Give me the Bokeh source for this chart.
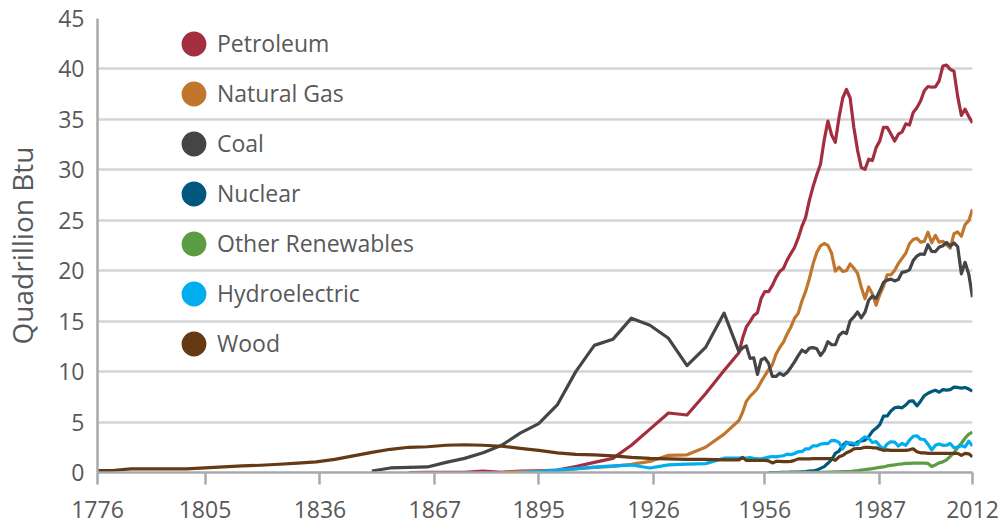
from bokeh.plotting import figure
from bokeh.models import Range1d, FixedTicker, Legend, LegendItem
from bokeh.embed import file_html
from bokeh.resources import INLINE

# ---- data (Quadrillion Btu) ----
years_early = [1776, 1780, 1785, 1790, 1795, 1800, 1805, 1810, 1815, 1820, 1825, 1830,
               1835, 1840, 1845, 1850, 1855, 1860, 1865, 1870, 1875, 1880, 1885, 1890,
               1895, 1900, 1905, 1910, 1915, 1920, 1925, 1930, 1935, 1940, 1945]
years_annual = list(range(1949, 2013))

wood_early = [0.2, 0.2, 0.35, 0.35, 0.35, 0.36, 0.45, 0.55, 0.65, 0.72, 0.82, 0.92,
              1.05, 1.3, 1.65, 2.0, 2.3, 2.5, 2.55, 2.7, 2.75, 2.7, 2.6, 2.4,
              2.2, 1.95, 1.8, 1.75, 1.65, 1.5, 1.4, 1.35, 1.3, 1.3, 1.25]
coal_early = [None] * 15 + [0.15, 0.45, 0.5, 0.55, 1.0, 1.4, 1.95, 2.7, 3.9,
                            4.85, 6.7, 10.0, 12.6, 13.2, 15.3, 14.6, 13.3, 10.6, 12.4, 15.8]
petroleum_early = [None] * 17 + [0.0, 0.02, 0.02, 0.02, 0.15, 0.02, 0.15,
                                 0.17, 0.23, 0.6, 1.0, 1.4, 2.7, 4.3, 5.9, 5.7, 7.8, 10.1]
gas_early = [None] * 22 + [0.02, 0.1, 0.12, 0.2, 0.35, 0.5, 0.6, 0.8, 1.1, 1.7, 1.75, 2.5, 3.8]
hydro_early = [None] * 23 + [0.02, 0.09, 0.25, 0.39, 0.54, 0.66, 0.74, 0.45, 0.75, 0.83, 0.88, 1.42]

petroleum_annual = [11.88, 13.32, 14.43, 14.96, 15.56, 15.84, 17.26, 17.94, 17.93, 18.53,
                    19.32, 19.92, 20.22, 21.05, 21.70, 22.30, 23.25, 24.40, 25.28, 26.98,
                    28.34, 29.52, 30.56, 32.95, 34.84, 33.45, 32.73, 35.18, 37.12, 37.97,
                    37.12, 34.20, 31.93, 30.23, 30.05, 31.05, 30.92, 32.20, 32.87, 34.22,
                    34.21, 33.55, 32.85, 33.53, 33.75, 34.56, 34.44, 35.68, 36.16, 36.82,
                    37.84, 38.26, 38.19, 38.22, 38.81, 40.29, 40.39, 39.96, 39.77, 37.28,
                    35.40, 36.01, 35.28, 34.66]
gas_annual = [5.15, 5.97, 7.05, 7.55, 7.91, 8.33, 9.00, 9.61, 10.19, 10.66,
              11.72, 12.39, 12.93, 13.73, 14.40, 15.29, 15.77, 17.00, 17.95, 19.21,
              20.68, 21.80, 22.47, 22.70, 22.51, 21.73, 19.95, 20.35, 19.93, 20.00,
              20.67, 20.24, 19.75, 18.36, 17.22, 18.39, 17.70, 16.59, 17.64, 18.45,
              19.60, 19.60, 20.03, 20.71, 21.23, 21.73, 22.67, 23.09, 23.22, 22.83,
              22.91, 23.82, 22.77, 23.51, 22.83, 22.92, 22.57, 22.24, 23.66, 23.84,
              23.42, 24.58, 24.96, 26.09]
coal_annual = [11.98, 12.35, 12.55, 11.31, 11.37, 9.72, 11.17, 11.35, 10.82, 9.53,
               9.52, 9.84, 9.62, 9.91, 10.41, 10.96, 11.58, 12.14, 11.91, 12.33,
               12.38, 12.27, 11.60, 12.08, 12.97, 12.66, 12.66, 13.58, 13.92, 13.77,
               15.04, 15.42, 15.91, 15.32, 15.89, 17.07, 17.48, 17.26, 18.01, 18.85,
               19.07, 19.17, 18.99, 19.12, 19.84, 19.91, 20.09, 21.00, 21.45, 21.66,
               21.62, 22.58, 21.91, 21.90, 22.32, 22.47, 22.80, 22.45, 22.75, 22.39,
               19.69, 20.83, 19.66, 17.38]
nuclear_annual = [None] * 8 + [0.0, 0.002, 0.002, 0.006, 0.02, 0.026, 0.038, 0.04,
                               0.043, 0.064, 0.088, 0.142, 0.154, 0.239, 0.413, 0.584,
                               0.91, 1.27, 1.90, 2.11, 2.70, 3.02, 2.78, 2.74, 3.01, 3.13,
                               3.20, 3.55, 4.08, 4.38, 4.75, 5.59, 5.60, 6.10, 6.42, 6.48,
                               6.41, 6.69, 7.08, 7.09, 6.60, 7.07, 7.61, 7.86, 8.03, 8.15,
                               7.96, 8.22, 8.16, 8.22, 8.46, 8.43, 8.36, 8.43, 8.27, 8.06]
renew_annual = [None] * 11 + [0.0, 0.0, 0.0, 0.0, 0.0, 0.004, 0.005, 0.005, 0.006, 0.008,
                              0.011, 0.013, 0.02, 0.04, 0.05, 0.06, 0.07, 0.08, 0.09, 0.1,
                              0.14, 0.18, 0.23, 0.28, 0.33, 0.38, 0.45, 0.5, 0.55, 0.65,
                              0.7, 0.75, 0.82, 0.85, 0.9, 0.9, 0.92, 0.92, 0.92, 0.92,
                              0.9, 0.6, 0.75, 0.95, 1.05, 1.25, 1.6, 1.95, 2.5, 2.9,
                              3.4, 3.8, 4.0]
hydro_annual = [1.43, 1.42, 1.42, 1.47, 1.41, 1.36, 1.36, 1.44, 1.52, 1.59,
                1.55, 1.61, 1.66, 1.82, 1.77, 1.89, 2.06, 2.06, 2.35, 2.35,
                2.65, 2.63, 2.82, 2.86, 2.86, 3.18, 3.16, 2.98, 2.33, 2.94,
                2.93, 2.90, 2.76, 3.27, 3.53, 3.39, 2.97, 3.07, 2.64, 2.33,
                2.84, 3.05, 3.02, 2.62, 2.89, 2.68, 3.21, 3.59, 3.64, 3.30,
                3.27, 2.81, 2.24, 2.69, 2.83, 2.69, 2.70, 2.87, 2.45, 2.51,
                2.67, 2.54, 3.10, 2.63]
wood_annual = [1.25, 1.5, 1.2, 1.2, 1.2, 1.2, 1.2, 1.2, 1.15, 0.95,
               1.1, 1.1, 1.08, 1.08, 1.1, 1.2, 1.35, 1.36, 1.36, 1.36,
               1.37, 1.37, 1.37, 1.38, 1.38, 1.38, 1.2, 1.55, 1.68, 1.95,
               2.1, 2.35, 2.38, 2.4, 2.5, 2.5, 2.45, 2.45, 2.3, 2.2,
               2.25, 2.2, 2.2, 2.2, 2.2, 2.2, 2.25, 2.35, 2.05, 1.95,
               1.95, 1.9, 1.9, 1.9, 1.9, 1.9, 1.9, 1.9, 1.9, 1.9,
               1.7, 1.9, 1.85, 1.55]

names = ["Petroleum", "Natural Gas", "Coal", "Nuclear", "Other Renewables", "Hydroelectric", "Wood"]
colors = ["#a32e3f", "#c0772d", "#454547", "#00587c", "#5c9c43", "#00aeef", "#633a14"]
series = [
    petroleum_early + petroleum_annual,
    gas_early + gas_annual,
    coal_early + coal_annual,
    [None] * len(years_early) + nuclear_annual,
    [None] * len(years_early) + renew_annual,
    hydro_early + hydro_annual,
    wood_early + wood_annual,
]
x_ticks = [1776, 1805, 1836, 1867, 1895, 1926, 1956, 1987, 2012]
y_ticks = [0, 5, 10, 15, 20, 25, 30, 35, 40, 45]
y_title = "Quadrillion Btu"

TEXT = "#58595b"
AXIS = "#a7a9ac"
FONT = "Open Sans"

p = figure(width=1000, height=524, output_backend="svg", toolbar_location=None,
           x_range=Range1d(1776, 2012), y_range=Range1d(0, 45),
           min_border_left=94, min_border_right=28, min_border_top=18, min_border_bottom=52)
p.outline_line_color = None
p.background_fill_color = "white"
p.border_fill_color = "white"

years = years_early + years_annual
legend_items = []
for name, col, vals in zip(names, colors, series):
    xs = [y for y, v in zip(years, vals) if v is not None]
    ys = [v for v in vals if v is not None]
    p.line(xs, ys, line_color=col, line_width=3.2, line_join="round")
    # legend swatch: a vanishingly small ellipse at the series' first point;
    # the legend draws it as a round dot scaled to the glyph box
    r = p.ellipse(x=xs[:1], y=ys[:1], width=0.01, height=0.01,
                  width_units="screen", height_units="screen",
                  fill_color=col, line_color=None)
    legend_items.append(LegendItem(label=name, renderers=[r]))

# axes
p.xaxis.ticker = FixedTicker(ticks=x_ticks)
p.yaxis.ticker = FixedTicker(ticks=y_ticks)
for ax in (p.xaxis[0], p.yaxis[0]):
    ax.axis_line_color = AXIS
    ax.axis_line_width = 2.5
    ax.major_tick_line_color = AXIS
    ax.major_tick_line_width = 2.5
    ax.minor_tick_line_color = None
    ax.major_label_text_color = TEXT
    ax.major_label_text_font = FONT
    ax.major_label_text_font_size = "23px"
p.xaxis.major_tick_out = 12
p.xaxis.major_tick_in = 0
p.xaxis.major_label_standoff = 16
p.yaxis.major_tick_out = 0
p.yaxis.major_tick_in = 0
p.yaxis.major_label_standoff = 13
p.yaxis.axis_label = y_title
p.yaxis.axis_label_text_font = FONT
p.yaxis.axis_label_text_font_size = "28px"
p.yaxis.axis_label_text_font_style = "normal"
p.yaxis.axis_label_text_color = TEXT
p.yaxis.axis_label_standoff = 14

p.xgrid.grid_line_color = None
p.ygrid.ticker = FixedTicker(ticks=[5, 10, 15, 20, 25, 30, 35, 40])
p.ygrid.grid_line_color = "#d4d5d6"
p.ygrid.grid_line_width = 2.5

legend = Legend(items=legend_items, location=(81, 113), orientation="vertical",
                glyph_width=31, glyph_height=31, spacing=18, label_standoff=8,
                padding=0, margin=0, border_line_color=None, background_fill_alpha=0,
                label_text_font=FONT, label_text_font_size="23px", label_text_color=TEXT)
p.add_layout(legend, "center")

open("out.html", "w").write(file_html(p, INLINE))
